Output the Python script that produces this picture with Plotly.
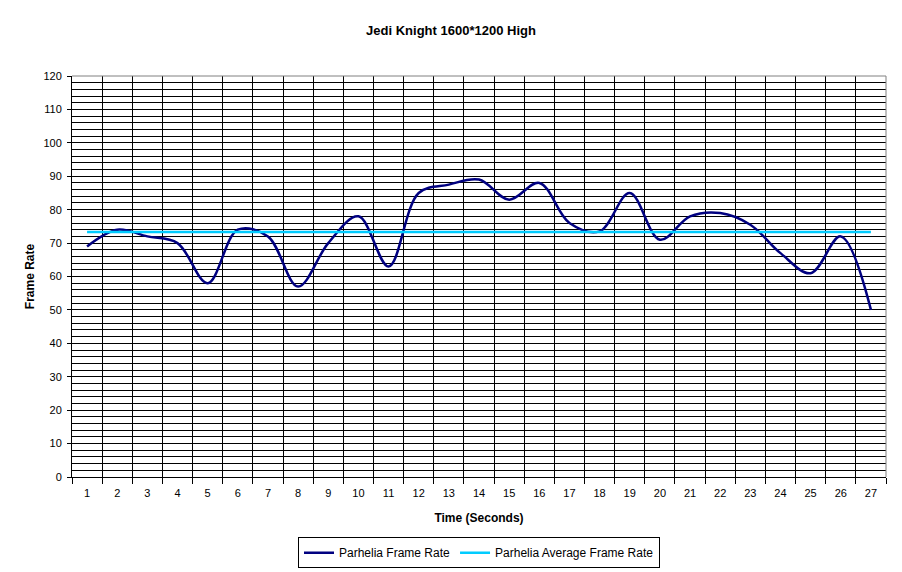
import plotly.graph_objects as go

seconds = list(range(1, 28))
frame_rate = [69, 74, 72, 70, 58, 74, 72, 57, 70, 78, 63, 85, 87.5, 89, 83,
              88, 76, 73.5, 85, 71, 78, 79, 75.5, 67, 61, 72, 50]
average_rate = [73.3] * 27

title_text = "Jedi Knight 1600*1200 High"
x_title = "Time (Seconds)"
y_title = "Frame Rate"
series_names = ["Parhelia Frame Rate", "Parhelia Average Frame Rate"]

font_family = "Liberation Sans, Arial, sans-serif"
W, H = 894, 564

fig = go.Figure()
fig.add_trace(go.Scatter(
    x=seconds, y=frame_rate, mode="lines", name=series_names[0],
    line=dict(color="#000080", width=2.5, shape="spline", smoothing=1.0),
))
fig.add_trace(go.Scatter(
    x=seconds, y=average_rate, mode="lines", name=series_names[1],
    line=dict(color="#00CCFF", width=2.5),
))

fig.update_layout(
    width=W, height=H,
    margin=dict(l=64, r=16, t=68, b=95, autoexpand=False),
    paper_bgcolor="white", plot_bgcolor="white",
    font=dict(family=font_family, size=11, color="black"),
    title=dict(text="<b>" + title_text + "</b>", x=443 / W, xref="container",
               xanchor="center",
               y=1 - 22 / H, yref="container", yanchor="middle",
               font=dict(size=13, family=font_family, color="black")),
    showlegend=True,
    legend=dict(orientation="h", x=0.5, xanchor="center", y=-0.15, yanchor="top",
                bordercolor="black", borderwidth=1, bgcolor="white",
                font=dict(size=12, family=font_family), itemwidth=30,
                traceorder="normal"),
)

fig.update_xaxes(
    automargin=False,
    range=[0.5, 27.5], tickmode="array", tickvals=seconds,
    ticktext=[str(s) for s in seconds], ticks="", showgrid=False,
    ticklabelstandoff=6,
    showline=True, linecolor="black", linewidth=1, zeroline=False,
    tickfont=dict(size=11, family=font_family),
    title=dict(text="<b>" + x_title + "</b>", standoff=15,
               font=dict(size=12, family=font_family)),
    minor=dict(tickmode="linear", tick0=0.5, dtick=1, showgrid=True,
               gridcolor="black", gridwidth=1, ticks="outside", ticklen=6,
               tickcolor="black"),
    mirror=False,
)
fig.update_yaxes(
    automargin=False,
    range=[0, 120], tickmode="linear", tick0=0, dtick=10,
    ticks="outside", ticklen=4, tickcolor="black",
    ticklabelstandoff=3,
    showgrid=True, gridcolor="black", gridwidth=1,
    showline=True, linecolor="black", linewidth=1, zeroline=False,
    tickfont=dict(size=11, family=font_family),
    title=dict(text="<b>" + y_title + "</b>", standoff=6,
               font=dict(size=12, family=font_family)),
    minor=dict(tickmode="linear", tick0=0, dtick=2, showgrid=True,
               gridcolor="black", gridwidth=1, ticks=""),
)

# gray plot-area border on top and right (Excel style)
fig.add_shape(type="line", xref="paper", yref="paper", x0=0, x1=1, y0=1, y1=1,
              line=dict(color="#808080", width=1))
fig.add_shape(type="line", xref="paper", yref="paper", x0=1, x1=1, y0=0, y1=1,
              line=dict(color="#808080", width=1))

fig.write_html("out.html")
